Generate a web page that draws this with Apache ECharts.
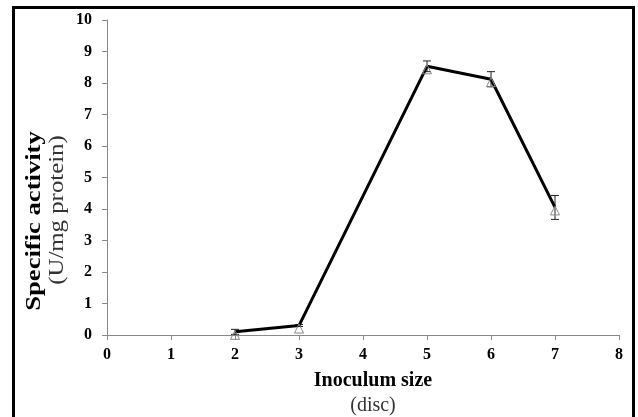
<!DOCTYPE html>
<html>
<head>
<meta charset="utf-8">
<script src="https://cdn.jsdelivr.net/npm/echarts@6/dist/echarts.min.js"></script>
<style>html,body{margin:0;padding:0;background:#fff;}#c{width:638px;height:417px;}</style>
</head>
<body>
<div id="c"></div>
<script>
// Data
var inoculum = [2, 3, 5, 6, 7];
var activity = [0.10, 0.30, 8.53, 8.12, 4.05];
var errors = [0.08, 0.03, 0.17, 0.24, 0.38];
var xTicks = [0, 1, 2, 3, 4, 5, 6, 7, 8];
var yTicks = [0, 1, 2, 3, 4, 5, 6, 7, 8, 9, 10];
var xTitle = 'Inoculum size';
var xUnit = '(disc)';
var yTitle = 'Specific activity';
var yUnit = '(U/mg protein)';

var FONT = '"Liberation Serif", "Times New Roman", serif';
var chart = echarts.init(document.getElementById('c'), null, {renderer: 'canvas'});

var lineData = inoculum.map(function (x, i) { return [x, activity[i]]; });
var errData = inoculum.map(function (x, i) { return [x, activity[i] - errors[i], activity[i] + errors[i]]; });

chart.setOption({
  animation: false,
  backgroundColor: '#fff',
  grid: {left: 107, right: 19, top: 20, bottom: 82, containLabel: false},
  xAxis: {
    type: 'value', min: xTicks[0], max: xTicks[xTicks.length - 1], interval: 1,
    axisLine: {show: true, onZero: false, lineStyle: {color: '#888', width: 1}},
    axisTick: {show: true, inside: false, length: 5, lineStyle: {color: '#888'}},
    splitLine: {show: false},
    axisLabel: {margin: 12, color: '#000', fontFamily: FONT, fontWeight: 'bold', fontSize: 16}
  },
  yAxis: {
    type: 'value', min: yTicks[0], max: yTicks[yTicks.length - 1], interval: 1,
    axisLine: {show: true, lineStyle: {color: '#888', width: 1}},
    axisTick: {show: true, inside: false, length: 5, lineStyle: {color: '#888'}},
    splitLine: {show: false},
    axisLabel: {margin: 15, color: '#000', fontFamily: FONT, fontWeight: 'bold', fontSize: 16}
  },
  series: [
    {
      type: 'custom',
      data: errData,
      z: 3,
      renderItem: function (params, api) {
        var x = api.value(0);
        var lo = api.coord([x, api.value(1)]);
        var hi = api.coord([x, api.value(2)]);
        var w = 4;
        var st = {stroke: '#222', lineWidth: 1};
        return {
          type: 'group',
          children: [
            {type: 'line', shape: {x1: lo[0], y1: lo[1], x2: hi[0], y2: hi[1]}, style: st},
            {type: 'line', shape: {x1: lo[0] - w, y1: lo[1], x2: lo[0] + w, y2: lo[1]}, style: st},
            {type: 'line', shape: {x1: hi[0] - w, y1: hi[1], x2: hi[0] + w, y2: hi[1]}, style: st}
          ]
        };
      }
    },
    {
      type: 'line',
      data: lineData,
      z: 4,
      symbol: 'triangle',
      symbolSize: [9, 9],
      symbolOffset: [0, 3],
      showSymbol: true,
      lineStyle: {color: '#000', width: 3},
      itemStyle: {color: 'rgba(255,255,255,0)', borderColor: '#888', borderWidth: 1}
    }
  ],
  graphic: [
    {type: 'rect', shape: {x: 13.5, y: 7.5, width: 620, height: 430}, style: {fill: 'none', stroke: '#000', lineWidth: 3}, z: 100},
    {type: 'text', x: 373, y: 381, style: {text: xTitle, font: 'bold 20px ' + FONT, fill: '#000', textAlign: 'center', textVerticalAlign: 'middle'}},
    {type: 'text', x: 373, y: 406, style: {text: xUnit, font: '20px ' + FONT, fill: '#333', textAlign: 'center', textVerticalAlign: 'middle'}},
    {type: 'text', x: 35, y: 221, rotation: Math.PI / 2, scaleX: 1.33, style: {text: yTitle, font: 'bold 20px ' + FONT, fill: '#000', textAlign: 'center', textVerticalAlign: 'middle'}},
    {type: 'text', x: 58, y: 210, rotation: Math.PI / 2, scaleX: 1.24, style: {text: yUnit, font: '20px ' + FONT, fill: '#333', textAlign: 'center', textVerticalAlign: 'middle'}}
  ]
});
</script>
</body>
</html>
